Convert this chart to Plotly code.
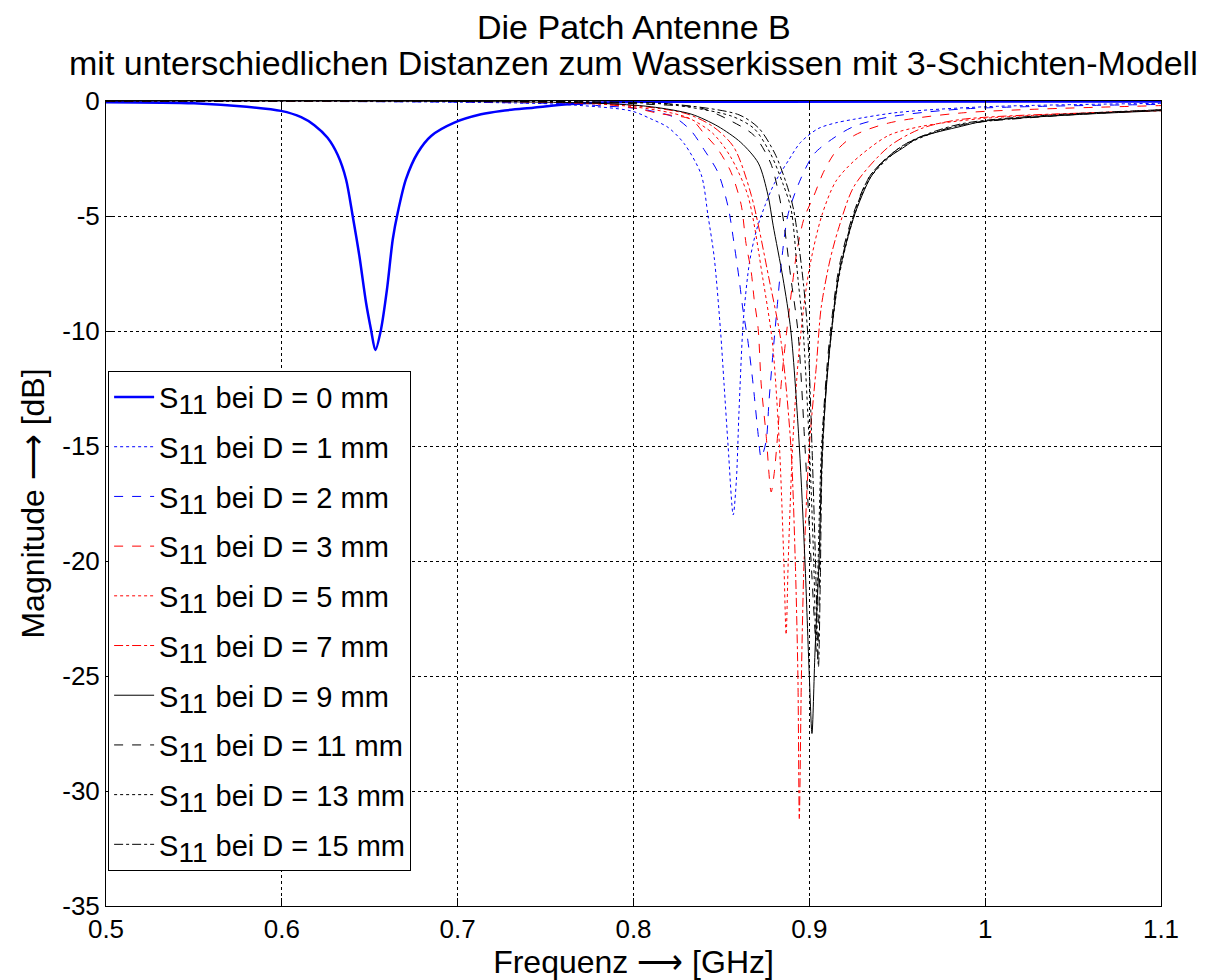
import plotly.graph_objects as go

# ---------------- data ----------------
title_lines = ["Die Patch Antenne B",
               "mit unterschiedlichen Distanzen zum Wasserkissen mit 3-Schichten-Modell"]
distances_mm = ["0", "1", "2", "3", "5", "7", "9", "11", "13", "15"]
labels = ["S<sub><span style='font-size:28px'>11</span></sub> bei D = %s mm" % d for d in distances_mm]

f_d0 = [0.50, 0.55, 0.58, 0.5995, 0.611, 0.6185, 0.626, 0.6318, 0.6365, 0.6403, 0.6441, 0.6479, 0.6507,
        0.6532, 0.6564, 0.6598, 0.6631, 0.6659, 0.6706, 0.6773, 0.6849, 0.6981, 0.7133, 0.7247, 0.743,
        0.763, 0.7816, 0.80, 1.10]
s_d0 = [-0.05, -0.1, -0.25, -0.43, -0.7, -1.05, -1.6, -2.35, -3.4, -5.0, -6.74, -8.77, -9.93,
        -10.83, -9.93, -8.19, -6.01, -4.86, -3.4, -2.25, -1.52, -0.94, -0.58, -0.43, -0.29,
        -0.14, -0.07, -0.03, -0.02]

f_d1 = [0.50, 0.70, 0.76, 0.7986, 0.81, 0.8197, 0.8288, 0.8385, 0.8424, 0.8459, 0.8495, 0.8515, 0.8538,
        0.8567, 0.8585, 0.860, 0.8625, 0.866, 0.870, 0.875, 0.880, 0.888, 0.895, 0.905, 0.915, 0.925,
        0.95, 1.0, 1.1]
s_d1 = [0.0, -0.05, -0.15, -0.43, -0.78, -1.15, -1.85, -3.2, -5.0, -6.8, -10.0, -12.3, -15.0,
        -18.0, -16.5, -13.5, -9.5, -7.0, -5.6, -4.5, -3.6, -2.6, -1.8, -1.2, -0.95, -0.8,
        -0.5, -0.25, -0.1]

f_d2 = [0.50, 0.70, 0.76, 0.78, 0.804, 0.823, 0.8328, 0.840, 0.848, 0.8538, 0.8572, 0.860, 0.8623, 0.865,
        0.868, 0.8709, 0.8726, 0.8754, 0.8771, 0.8794, 0.882, 0.884, 0.888, 0.8953, 0.9027, 0.914,
        0.9255, 0.945, 0.9864, 1.1]
s_d2 = [0.0, -0.05, -0.12, -0.2, -0.35, -0.7, -1.3, -2.1, -3.1, -4.6, -6.2, -7.7, -9.1, -10.4,
        -12.3, -14.5, -15.5, -14.8, -13.0, -10.9, -8.7, -7.1, -4.9, -3.35, -2.3, -1.6,
        -1.1, -0.7, -0.35, -0.15]

f_d3 = [0.50, 0.75, 0.78, 0.80, 0.815, 0.8328, 0.840, 0.848, 0.8555, 0.8612, 0.864, 0.8669, 0.8686, 0.8709,
        0.8726, 0.8754, 0.8783, 0.880, 0.882, 0.884, 0.887, 0.890, 0.893, 0.897, 0.9027, 0.908, 0.915,
        0.9255, 0.945, 0.9864, 1.1]
s_d3 = [0.0, -0.05, -0.12, -0.3, -0.55, -0.8, -1.4, -2.1, -3.1, -4.5, -6.2, -7.4, -8.6, -9.9,
        -12.3, -14.5, -17.0, -16.2, -14.5, -12.3, -10.1, -8.2, -6.5, -5.1, -4.1, -3.1, -2.2,
        -1.5, -0.96, -0.52, -0.2]

f_d5 = [0.50, 0.75, 0.80, 0.83, 0.845, 0.855, 0.865, 0.8735, 0.879, 0.883, 0.8855, 0.8868, 0.888, 0.8905,
        0.894, 0.8995, 0.907, 0.915, 0.9255, 0.945, 0.964, 1.0, 1.1]
s_d5 = [0.0, -0.05, -0.25, -0.7, -1.4, -2.4, -4.1, -7.7, -10.5, -15.0, -20.0, -23.2, -20.0, -15.0,
        -11.0, -7.5, -5.0, -3.5, -2.6, -1.5, -1.1, -0.75, -0.4]

f_d7 = [0.50, 0.75, 0.80, 0.83, 0.845, 0.857, 0.867, 0.877, 0.884, 0.8895, 0.892, 0.8935, 0.8943, 0.8955,
        0.897, 0.900, 0.904, 0.9067, 0.9115, 0.9164, 0.9255, 0.945, 0.9636, 0.9864, 1.1]
s_d7 = [0.0, -0.04, -0.2, -0.55, -1.1, -2.0, -4.1, -7.7, -10.5, -15.0, -20.0, -25.0, -31.2, -25.0,
        -20.0, -15.0, -11.5, -9.0, -7.0, -5.6, -3.7, -2.0, -1.2, -0.8, -0.43]

f_d9 = [0.50, 0.70, 0.78, 0.81, 0.8328, 0.848, 0.861, 0.871, 0.8765, 0.8794, 0.885, 0.8895, 0.8943, 0.8975,
        0.900, 0.9015, 0.9032, 0.9055, 0.9075, 0.9113, 0.917, 0.9255, 0.935, 0.9425, 0.954, 0.962,
        0.9864, 1.0, 1.05, 1.1]
s_d9 = [0.0, -0.02, -0.1, -0.25, -0.57, -1.1, -1.8, -2.7, -4.1, -5.4, -7.7, -10.0, -15.0, -20.0,
        -25.0, -27.5, -24.0, -20.0, -15.0, -11.0, -7.5, -5.0, -3.3, -2.6, -2.0, -1.6,
        -1.1, -0.87, -0.6, -0.42]

f_d11 = [0.50, 0.70, 0.78, 0.81, 0.838, 0.8555, 0.8686, 0.878, 0.8828, 0.8857, 0.8895, 0.8935, 0.8975,
         0.901, 0.9045, 0.9055, 0.9063, 0.9078, 0.9113, 0.917, 0.9255, 0.935, 0.954, 0.986, 1.03, 1.1]
s_d11 = [0.0, -0.01, -0.06, -0.15, -0.3, -0.87, -1.5, -2.7, -4.1, -5.4, -7.7, -10.0, -15.0,
         -20.0, -24.3, -22.0, -18.0, -14.0, -10.5, -7.2, -4.8, -3.2, -1.9, -1.05, -0.7, -0.38]

f_d13 = [0.50, 0.70, 0.78, 0.82, 0.8555, 0.8686, 0.878, 0.885, 0.8896, 0.8935, 0.8965, 0.900, 0.9025,
         0.9038, 0.905, 0.907, 0.9113, 0.917, 0.9255, 0.935, 0.954, 0.986, 1.1]
s_d13 = [0.0, 0.0, -0.05, -0.15, -0.65, -1.2, -2.3, -3.6, -4.7, -7.7, -10.0, -15.0, -20.0,
         -23.5, -20.0, -15.0, -11.0, -7.6, -5.0, -3.3, -1.95, -1.05, -0.4]

f_d15 = [0.50, 0.70, 0.78, 0.82, 0.86, 0.8715, 0.8805, 0.887, 0.891, 0.8963, 0.899, 0.9015, 0.9035,
         0.9052, 0.9062, 0.9072, 0.9095, 0.9125, 0.917, 0.9255, 0.935, 0.954, 0.986, 1.1]
s_d15 = [0.0, 0.0, -0.04, -0.12, -0.6, -1.2, -2.3, -3.6, -4.7, -7.7, -10.0, -15.0, -20.0,
         -24.6, -21.0, -16.0, -12.5, -10.0, -7.4, -4.9, -3.2, -1.9, -1.0, -0.38]

freqs = [f_d0, f_d1, f_d2, f_d3, f_d5, f_d7, f_d9, f_d11, f_d13, f_d15]
values = [s_d0, s_d1, s_d2, s_d3, s_d5, s_d7, s_d9, s_d11, s_d13, s_d15]

colors = ["#0000ff", "#0000ff", "#0000ff", "#ff0000", "#ff0000", "#ff0000",
          "#000000", "#000000", "#000000", "#000000"]
dashes = ["solid", "dot", "dash", "dash", "dot", "dashdot", "solid", "dash", "dot", "dashdot"]
widths = [2.5, 1, 1, 1, 1, 1, 1, 1, 1, 1]

x_ticks = [0.5, 0.6, 0.7, 0.8, 0.9, 1.0, 1.1]
x_ticklabels = ["0.5", "0.6", "0.7", "0.8", "0.9", "1", "1.1"]
y_ticks = [0, -5, -10, -15, -20, -25, -30, -35]
y_ticklabels = ["0", "-5", "-10", "-15", "-20", "-25", "-30", "-35"]

# ---------------- figure ----------------
FONT = "Liberation Sans, Arial, Helvetica, sans-serif"
fig = go.Figure()
for i, (f, s, lab, c, d, w) in enumerate(zip(freqs, values, labels, colors, dashes, widths)):
    fig.add_trace(go.Scatter(x=f, y=s, mode="lines", name=lab, legendgroup="g%d" % i,
                             line=dict(color=c, dash=d, width=w, shape="spline", smoothing=0.8)))

# two title lines as separate centred texts above the plot area
for txt, ypos in zip(title_lines, [1.0925, 1.0472]):
    fig.add_annotation(text=txt, xref="paper", yref="paper", x=0.5, y=ypos,
                       xanchor="center", yanchor="middle", showarrow=False,
                       font=dict(family=FONT, size=34, color="black"))

fig.update_layout(
    width=1228, height=980,
    margin=dict(l=98, r=75, t=93, b=82),
    paper_bgcolor="white", plot_bgcolor="white",
    font=dict(family=FONT, color="black", size=26),
    showlegend=True,
    legend=dict(x=0.002, y=0.665, xanchor="left", yanchor="top",
                bgcolor="white", bordercolor="black", borderwidth=1,
                font=dict(family=FONT, size=29, color="black"),
                tracegroupgap=9, itemwidth=40),
)
fig.update_xaxes(range=[0.5, 1.1], tickvals=x_ticks, ticktext=x_ticklabels,
                 showgrid=True, gridcolor="black", griddash="dot", gridwidth=1,
                 showline=True, linecolor="black", linewidth=1, mirror="ticks",
                 ticks="inside", ticklen=8, tickcolor="black", zeroline=False,
                 tickfont=dict(size=26),
                 title=dict(text="Frequenz \u27f6 [GHz]", font=dict(size=32), standoff=5))
fig.update_yaxes(range=[-35, 0], tickvals=y_ticks, ticktext=y_ticklabels,
                 showgrid=True, gridcolor="black", griddash="dot", gridwidth=1,
                 showline=True, linecolor="black", linewidth=1, mirror="ticks",
                 ticks="inside", ticklen=8, tickcolor="black", zeroline=False,
                 tickfont=dict(size=26),
                 title=dict(text="Magnitude \u27f6 [dB]", font=dict(size=32), standoff=8))

fig.write_html("out.html")
